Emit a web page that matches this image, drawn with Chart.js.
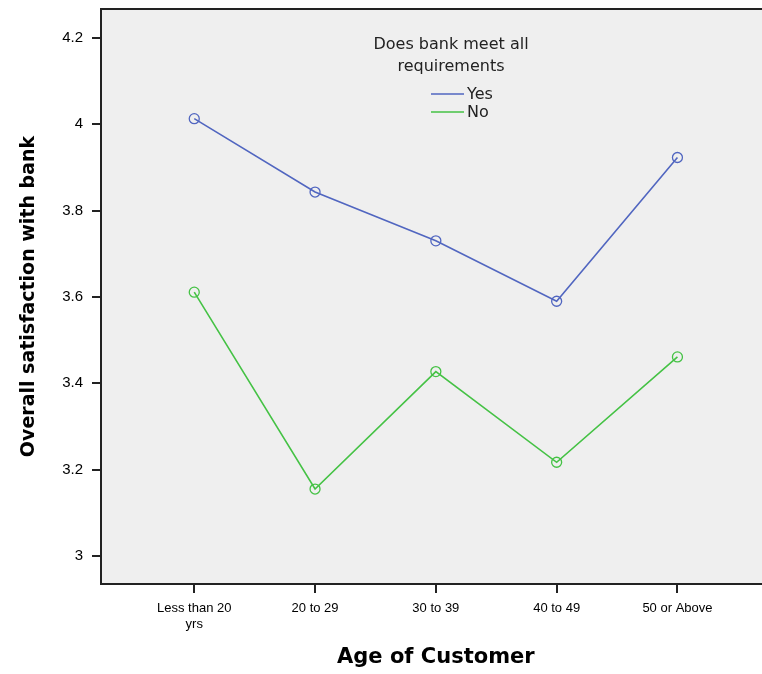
<!DOCTYPE html>
<html lang="en">
<head>
    <title>Overall satisfaction by age</title>
    <script src="https://cdn.jsdelivr.net/npm/chart.js"></script>
    <style>
        html, body { margin: 0; background: #fff; overflow: hidden; }
        canvas { display: block; }
    </style>
</head>
<body>
    <!-- the original picture is cut off on the right, so the canvas runs past the window -->
    <canvas id="satChart" width="777" height="674"></canvas>

    <script>
        // data
        const ageGroups = [['Less than 20', 'yrs'], '20 to 29', '30 to 39', '40 to 49', '50 or Above'];
        const yesValues = [4.013, 3.843, 3.730, 3.590, 3.923];
        const noValues = [3.611, 3.155, 3.427, 3.217, 3.461];
        const yTickValues = [3, 3.2, 3.4, 3.6, 3.8, 4, 4.2];
        const legendTitle = ['Does bank meet all', 'requirements'];

        const blue = '#5166c0';
        const green = '#45c245';

        // background + frame + legend
        const decor = {
            id: 'decor',
            beforeDraw(chart) {
                const a = chart.chartArea, c = chart.ctx;
                c.save();
                c.fillStyle = '#efefef';
                c.fillRect(a.left, a.top, a.right - a.left, a.bottom - a.top);
                c.restore();
            },
            afterDraw(chart) {
                const a = chart.chartArea, c = chart.ctx;
                c.save();
                c.strokeStyle = '#222';
                c.lineWidth = 2;
                c.strokeRect(a.left, a.top, a.right - a.left, a.bottom - a.top);

                // legend
                c.fillStyle = '#222';
                c.font = '16px "DejaVu Sans", sans-serif';
                c.textAlign = 'center';
                c.textBaseline = 'middle';
                c.fillText(legendTitle[0], 451, 45);
                c.fillText(legendTitle[1], 451, 67);
                c.textAlign = 'left';
                chart.data.datasets.forEach((ds, i) => {
                    const y = 94 + i * 18;
                    c.strokeStyle = ds.borderColor;
                    c.lineWidth = 1.5;
                    c.beginPath();
                    c.moveTo(431, y);
                    c.lineTo(464, y);
                    c.stroke();
                    c.fillStyle = '#222';
                    c.fillText(ds.label, 467, y + 1);
                });
                c.restore();
            }
        };

        const ctx = document.getElementById('satChart').getContext('2d');

        new Chart(ctx, {
            type: 'line',
            data: {
                datasets: [{
                    label: 'Yes',
                    data: yesValues.map((v, i) => ({ x: i, y: v })),
                    borderColor: blue,
                    backgroundColor: 'rgba(0,0,0,0)',
                    borderWidth: 1.6,
                    pointRadius: 5,
                    pointBorderWidth: 1.3,
                    pointBorderColor: blue,
                    tension: 0
                }, {
                    label: 'No',
                    data: noValues.map((v, i) => ({ x: i, y: v })),
                    borderColor: green,
                    backgroundColor: 'rgba(0,0,0,0)',
                    borderWidth: 1.6,
                    pointRadius: 5,
                    pointBorderWidth: 1.3,
                    pointBorderColor: green,
                    tension: 0
                }]
            },
            options: {
                responsive: false,
                animation: false,
                layout: { padding: { top: 9, left: 14, right: 1, bottom: 0 } },
                plugins: {
                    legend: { display: false },
                    tooltip: { enabled: false }
                },
                scales: {
                    x: {
                        type: 'linear',
                        min: -0.772,
                        max: 4.772,
                        afterBuildTicks: s => { s.ticks = ageGroups.map((g, i) => ({ value: i })); },
                        afterFit: s => { s.height = 90; s.paddingLeft = 0; s.paddingRight = 0; },
                        grid: { drawOnChartArea: false, color: '#222', lineWidth: 2, tickLength: 9 },
                        border: { color: '#222', width: 2 },
                        ticks: {
                            callback: v => ageGroups[v],
                            color: '#000',
                            font: { size: 13, family: '"Liberation Sans", Arial, sans-serif' },
                            padding: 8,
                            maxRotation: 0,
                            autoSkip: false
                        },
                        title: {
                            display: true,
                            text: 'Age of Customer',
                            color: '#000',
                            font: { size: 21, weight: 'bold', family: '"DejaVu Sans", sans-serif' },
                            padding: { top: 19 }
                        }
                    },
                    y: {
                        min: 2.935,
                        max: 4.267,
                        afterBuildTicks: s => { s.ticks = yTickValues.map(v => ({ value: v })); },
                        afterFit: s => { s.width = 87; s.paddingTop = 0; s.paddingBottom = 0; },
                        grid: { drawOnChartArea: false, color: '#222', lineWidth: 2, tickLength: 9 },
                        border: { color: '#222', width: 2 },
                        ticks: {
                            callback: v => String(Math.round(v * 10) / 10),
                            color: '#000',
                            font: { size: 15, family: '"Liberation Sans", Arial, sans-serif' },
                            padding: 9
                        },
                        title: {
                            display: true,
                            text: 'Overall satisfaction with bank',
                            color: '#000',
                            font: { size: 19, weight: 'bold', family: '"DejaVu Sans", sans-serif' },
                            padding: { bottom: 0 }
                        }
                    }
                }
            },
            plugins: [decor]
        });
    </script>
</body>
</html>
